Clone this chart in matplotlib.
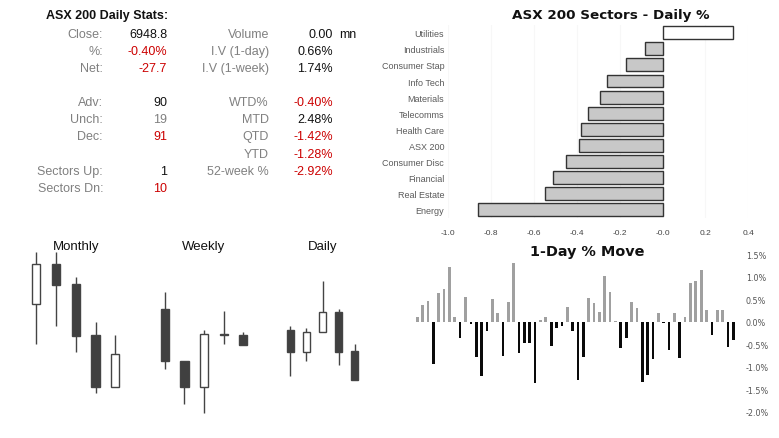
"""ASX 200 daily dashboard - stats, sectors, candles, 1-day moves"""
import matplotlib
matplotlib.use('Agg')
import matplotlib.pyplot as plt
import numpy as np

plt.rcParams['font.family'] = ['Liberation Sans', 'DejaVu Sans']
plt.rcParams['axes.unicode_minus'] = False

# --- Data ---
left_labels = ['Close:', '%:', 'Net:', 'Adv:', 'Unch:', 'Dec:', 'Sectors Up:', 'Sectors Dn:']
left_values = ['6948.8', '-0.40%', '-27.7', '90', '19', '91', '1', '10']
left_rows = [0, 1, 2, 4, 5, 6, 8, 9]
right_labels = ['Volume', 'I.V (1-day)', 'I.V (1-week)', 'WTD%', 'MTD', 'QTD', 'YTD', '52-week %']
right_values = ['0.00', '0.66%', '1.74%', '-0.40%', '2.48%', '-1.42%', '-1.28%', '-2.92%']
right_rows = [0, 1, 2, 4, 5, 6, 7, 8]

sectors = ['Utilities', 'Industrials', 'Consumer Stap', 'Info Tech', 'Materials', 'Telecomms',
           'Health Care', 'ASX 200', 'Consumer Disc', 'Financial', 'Real Estate', 'Energy']
sector_pct = [0.33, -0.08, -0.17, -0.26, -0.29, -0.35, -0.38, -0.39, -0.45, -0.51, -0.55, -0.86]

# candle levels (relative chart units)
monthly_open = [134.7, 175.0, 155.0, 104.0, 51.7]
monthly_high = [186.7, 186.7, 161.7, 116.7, 103.7]
monthly_low = [94.7, 112.7, 86.7, 45.7, 51.7]
monthly_close = [175.0, 154.3, 103.3, 51.7, 84.7]

weekly_open = [130.0, 77.7, 51.7, 104.7, 104.0]
weekly_high = [146.7, 77.7, 109.0, 127.7, 106.7]
weekly_low = [69.7, 34.7, 25.7, 95.0, 93.7]
weekly_close = [77.7, 51.7, 104.7, 103.7, 93.7]

daily_open = [109.0, 87.3, 106.7, 127.0, 88.0]
daily_high = [112.7, 111.0, 158.0, 130.0, 94.7]
daily_low = [62.7, 78.3, 106.7, 74.3, 59.3]
daily_close = [87.3, 106.7, 127.0, 87.3, 59.3]

day_moves = [0.10, 0.38, 0.47, -0.93, 0.63, 0.72, 1.22, 0.11, -0.37, 0.56,
             -0.05, -0.79, -1.20, -0.21, 0.50, 0.19, -0.76, 0.44, 1.30, -0.69,
             -0.48, -0.47, -1.37, 0.03, 0.11, -0.55, -0.13, -0.09, 0.33, -0.21,
             -1.29, -0.78, 0.52, 0.41, 0.22, 1.01, 0.67, 0.02, -0.58, -0.36,
             0.43, 0.30, -1.35, -1.18, -0.82, 0.19, -0.03, -0.62, 0.20, -0.80,
             0.11, 0.86, 0.90, 1.16, 0.27, -0.30, 0.27, 0.27, -0.56, -0.40]
move_ticks = [1.5, 1.0, 0.5, 0.0, -0.5, -1.0, -1.5, -2.0]

# Colors
RED = '#cc0000'
LABEL = '#808080'
INK = '#111111'
DARK = '#404040'
EDGE = '#444444'

W, H = 779, 439
fig = plt.figure(figsize=(W / 100, H / 100), dpi=100, facecolor='white')


def px_axes(x0, y0, x1, y1):
    return fig.add_axes([x0 / W, 1 - y1 / H, (x1 - x0) / W, (y1 - y0) / H])


def ptext(x, y, s, **kw):
    fig.text(x / W, 1 - y / H, s, **kw)


# --- Stats table ---
ptext(46, 16, 'ASX 200 Daily Stats:', fontsize=9, fontweight='bold', color=INK,
      ha='left', va='center')
row_y = lambda r: 35 + 17.08 * r
left_colors = [INK, RED, RED, INK, LABEL, RED, INK, RED]
for lab, val, r, c in zip(left_labels, left_values, left_rows, left_colors):
    ptext(103, row_y(r), lab, fontsize=9, color=LABEL, ha='right', va='center')
    ptext(167, row_y(r), val, fontsize=9, color=c, ha='right', va='center')
for lab, val, r in zip(right_labels, right_values, right_rows):
    ptext(269, row_y(r), lab, fontsize=9, color=LABEL, ha='right', va='center')
    ptext(333, row_y(r), val, fontsize=9, color=RED if val.startswith('-') else INK,
          ha='right', va='center')
ptext(339, row_y(0), 'mn', fontsize=9, color=INK, ha='left', va='center')

# --- Sector bars ---
ax = px_axes(448.3, 25.6, 748.3, 219)
y = np.arange(len(sectors))
colors = ['white' if v > 0 else '#c8c8c8' for v in sector_pct]
ax.barh(y, sector_pct, height=0.8, color=colors, edgecolor='#333333', linewidth=1, zorder=2)
ax.set_xlim(-1.0, 0.4)
ax.set_ylim(len(sectors) - 0.5, -0.5)
ax.set_xticks(np.arange(-1.0, 0.41, 0.2))
ax.set_xticklabels([f'{t:.1f}' for t in np.arange(-1.0, 0.41, 0.2)])
ax.set_yticks(y)
ax.set_yticklabels(sectors)
ax.tick_params(axis='both', length=0, labelsize=6.5, colors='#5a5a5a')
ax.tick_params(axis='x', pad=8, labelsize=6, colors='#444444')
ax.tick_params(axis='y', pad=3)
ax.grid(axis='x', color='#f7f7f7', linewidth=0.8, zorder=0)
for s in ax.spines.values():
    s.set_visible(False)
ptext(610.5, 15, 'ASX 200 Sectors - Daily %', fontsize=9.7, fontweight='bold',
      family='DejaVu Sans', color=INK, ha='center', va='center')

# --- Candles ---
def candles(x0, x1, title, o, h, l, c):
    cax = px_axes(x0, 240, x1, 420)
    xs = np.arange(len(o))
    cax.vlines(xs, l, h, color=EDGE, linewidth=1, zorder=1)
    bottoms = np.minimum(o, c)
    heights = np.maximum(np.abs(np.array(c) - np.array(o)), 0.8)
    fills = ['white' if cc > oo else DARK for oo, cc in zip(o, c)]
    cax.bar(xs, heights, bottom=bottoms, width=0.42, color=fills, edgecolor=EDGE,
            linewidth=1, zorder=2)
    cax.set_xlim(-0.5, len(o) - 0.5)
    cax.set_ylim(20, 200)
    cax.axis('off')
    cax.text((len(o) - 1) / 2, 193, title, fontsize=9.5, color=INK, ha='center', va='center')


candles(26.4, 125.2, 'Monthly', monthly_open, monthly_high, monthly_low, monthly_close)
candles(154.9, 253.2, 'Weekly', weekly_open, weekly_high, weekly_low, weekly_close)
candles(282.3, 362.8, 'Daily', daily_open, daily_high, daily_low, daily_close)

# --- 1-day % move ---
mx = px_axes(414.6, 255.2, 736.0, 412.7)
xs = np.arange(len(day_moves))
mcol = ['#a0a0a0' if v >= 0 else '#0a0a0a' for v in day_moves]
mx.bar(xs, day_moves, width=0.5, color=mcol, linewidth=0)
mx.set_xlim(-0.5, len(day_moves) - 0.5)
mx.set_ylim(-2.0, 1.5)
mx.yaxis.tick_right()
mx.set_yticks(move_ticks)
mx.set_yticklabels([f'{t:.1f}%' for t in move_ticks])
mx.set_xticks([])
mx.tick_params(axis='y', length=0, pad=7, labelsize=5.8, colors='#555555')
for lbl in mx.get_yticklabels():
    lbl.set_family('DejaVu Sans')
for s in mx.spines.values():
    s.set_visible(False)
ptext(587.5, 252, '1-Day % Move', fontsize=10.4, fontweight='bold', family='DejaVu Sans',
      color=INK, ha='center', va='center')

fig.savefig('out.png', dpi=100, facecolor='white')
plt.close()
